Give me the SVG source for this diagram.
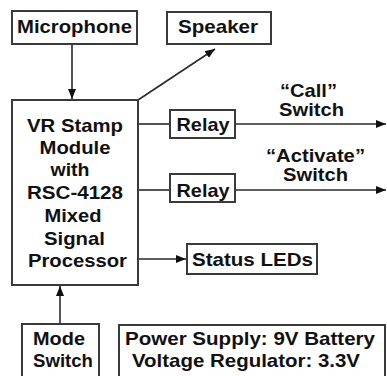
<svg xmlns="http://www.w3.org/2000/svg" width="387" height="376" viewBox="0 0 387 376">
<style>
.box{fill:#fff;stroke:#3a3a3a;stroke-width:2}
.ln{fill:none;stroke:#2a2a2a;stroke-width:1.6}
text{font-family:"Liberation Sans",Arial,sans-serif;font-weight:bold;font-size:19px;fill:#111;text-anchor:middle}
</style>
<defs>
<marker id="ah" viewBox="0 0 10 8" refX="10" refY="4" markerWidth="10" markerHeight="8" markerUnits="userSpaceOnUse" orient="auto">
<path d="M0,0 L10,4 L0,8 Z" fill="#111"/>
</marker>
</defs>
<rect width="387" height="376" fill="#fff"/>
<g id="connectors">
<line class="ln" x1="72" y1="44" x2="72" y2="99" marker-end="url(#ah)"/>
<line class="ln" x1="138" y1="100" x2="215" y2="49" marker-end="url(#ah)"/>
<line class="ln" x1="138" y1="124" x2="170" y2="124"/>
<line class="ln" x1="235" y1="124" x2="386" y2="124" marker-end="url(#ah)"/>
<line class="ln" x1="138" y1="190" x2="170" y2="190"/>
<line class="ln" x1="235" y1="190" x2="386" y2="190" marker-end="url(#ah)"/>
<line class="ln" x1="138" y1="259" x2="186" y2="259" marker-end="url(#ah)"/>
<line class="ln" x1="60" y1="324" x2="60" y2="286" marker-end="url(#ah)"/>
</g>
<g id="microphone">
<rect class="box" x="12" y="11" width="125" height="33"/>
<text x="74.5" y="33" textLength="115" lengthAdjust="spacingAndGlyphs">Microphone</text>
</g>
<g id="speaker">
<rect class="box" x="167" y="12" width="104" height="32"/>
<text x="218" y="33" textLength="80" lengthAdjust="spacingAndGlyphs">Speaker</text>
</g>
<g id="vrstamp">
<rect class="box" x="12" y="100" width="126" height="185"/>
<text x="75" y="132" textLength="96" lengthAdjust="spacingAndGlyphs">VR Stamp</text>
<text x="75" y="154" textLength="71" lengthAdjust="spacingAndGlyphs">Module</text>
<text x="70" y="176" textLength="39" lengthAdjust="spacingAndGlyphs">with</text>
<text x="75" y="199" textLength="96" lengthAdjust="spacingAndGlyphs">RSC-4128</text>
<text x="73" y="222" textLength="57" lengthAdjust="spacingAndGlyphs">Mixed</text>
<text x="74.5" y="245" textLength="61" lengthAdjust="spacingAndGlyphs">Signal</text>
<text x="77.5" y="267" textLength="99" lengthAdjust="spacingAndGlyphs">Processor</text>
</g>
<g id="relay1">
<rect class="box" x="170" y="110" width="65" height="28"/>
<text x="203" y="131" textLength="53" lengthAdjust="spacingAndGlyphs">Relay</text>
</g>
<g id="relay2">
<rect class="box" x="170" y="174" width="65" height="28"/>
<text x="203" y="197" textLength="53" lengthAdjust="spacingAndGlyphs">Relay</text>
</g>
<g id="call-label">
<text x="308.5" y="97" textLength="57" lengthAdjust="spacingAndGlyphs">“Call”</text>
<text x="311.5" y="116" textLength="65" lengthAdjust="spacingAndGlyphs">Switch</text>
</g>
<g id="activate-label">
<text x="315.5" y="162" textLength="99" lengthAdjust="spacingAndGlyphs">“Activate”</text>
<text x="315.5" y="181" textLength="65" lengthAdjust="spacingAndGlyphs">Switch</text>
</g>
<g id="status-leds">
<rect class="box" x="187" y="244" width="130" height="30"/>
<text x="252.5" y="266" textLength="121" lengthAdjust="spacingAndGlyphs">Status LEDs</text>
</g>
<g id="mode-switch">
<rect class="box" x="22" y="324" width="77" height="60"/>
<text x="59" y="345" textLength="52" lengthAdjust="spacingAndGlyphs">Mode</text>
<text x="63" y="367" textLength="60" lengthAdjust="spacingAndGlyphs">Switch</text>
</g>
<g id="power">
<rect class="box" x="119" y="325" width="266" height="60"/>
<text x="250" y="345" textLength="250" lengthAdjust="spacingAndGlyphs">Power Supply: 9V Battery</text>
<text x="246" y="367" textLength="228" lengthAdjust="spacingAndGlyphs">Voltage Regulator: 3.3V</text>
</g>
</svg>
